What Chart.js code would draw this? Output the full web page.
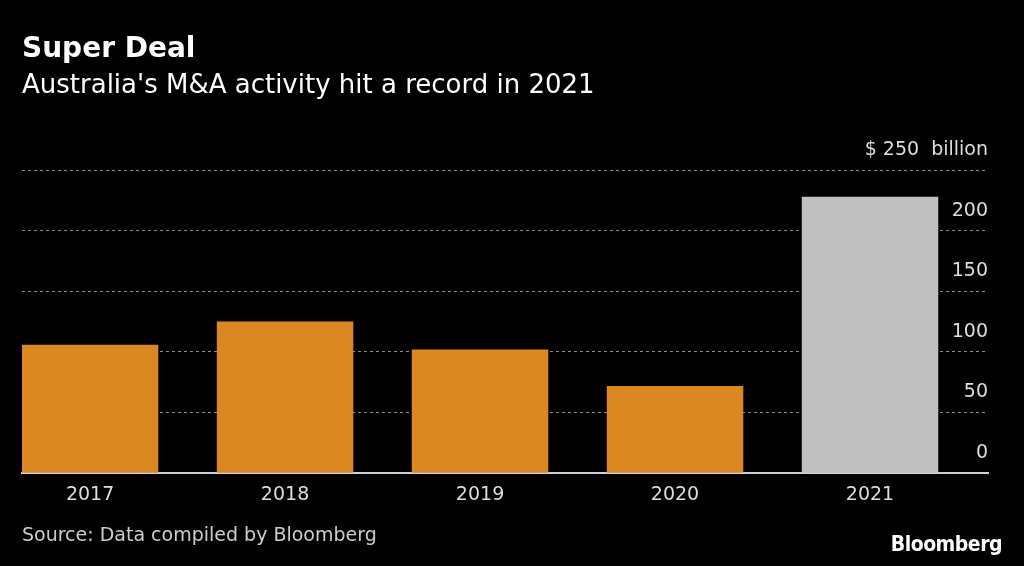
<!DOCTYPE html>
<html>
<head>
<meta charset="utf-8">
<script src="https://cdn.jsdelivr.net/npm/chart.js@4"></script>
<style>
  html, body { margin: 0; padding: 0; background: #000; }
  #wrap { position: relative; width: 1024px; height: 566px; overflow: hidden; }
  #chart { position: absolute; left: 0; top: 0; }
  .txt { position: absolute; font-family: "DejaVu Sans", sans-serif; white-space: nowrap; }
  #title { left: 22px; top: 31px; font-size: 28px; font-weight: bold; color: #fff; }
  #subtitle { left: 22px; top: 69px; font-size: 26px; color: #fff; }
  #source { left: 22px; top: 523px; font-size: 19px; color: #ccc; }
  #logo { right: 22px; top: 532px; font-family: "DejaVu Sans Condensed", "DejaVu Sans", sans-serif; font-size: 21px; font-weight: bold; color: #fff; letter-spacing: -0.5px; }
</style>
</head>
<body>
<div id="wrap">
  <canvas id="chart" width="1024" height="566"></canvas>
  <div class="txt" id="title">Super Deal</div>
  <div class="txt" id="subtitle">Australia's M&amp;A activity hit a record in 2021</div>
  <div class="txt" id="source">Source: Data compiled by Bloomberg</div>
  <div class="txt" id="logo">Bloomberg</div>
</div>
<script>
const years = ['2017', '2018', '2019', '2020', '2021'];
const dealValues = [106, 125, 102, 72, 228];
const yTicks = [0, 50, 100, 150, 200, 250];
const highlightYear = '2021';

const orange = '#db8823';
const gray = '#c0c0c0';
const fontFamily = '"DejaVu Sans", sans-serif';

const ctx = document.getElementById('chart').getContext('2d');

new Chart(ctx, {
    type: 'bar',
    data: {
        datasets: [{
            data: dealValues.map((v, i) => ({ x: i, y: v })),
            backgroundColor: years.map(y => y === highlightYear ? gray : orange),
            borderWidth: 0,
            barPercentage: 1,
            categoryPercentage: 0.7
        }]
    },
    options: {
        responsive: false,
        animation: false,
        layout: {
            padding: { top: 170, left: 22, right: 36, bottom: 50 }
        },
        plugins: {
            legend: { display: false },
            tooltip: { enabled: false }
        },
        scales: {
            x: {
                type: 'linear',
                offset: false,
                min: -0.349,
                max: 4.605,
                grid: { display: false, drawTicks: false },
                border: { display: true, color: '#d0d0d0', width: 2 },
                ticks: {
                    stepSize: 1,
                    includeBounds: false,
                    padding: 10,
                    color: '#dddddd',
                    font: { family: fontFamily, size: 19 },
                    callback: v => years[v] !== undefined ? years[v] : ''
                }
            },
            y: {
                position: 'right',
                min: yTicks[0],
                max: yTicks[yTicks.length - 1],
                grid: { color: '#8c8c8c', lineWidth: 1, drawTicks: false },
                border: { display: false, dash: [3, 3] },
                ticks: {
                    stepSize: 50,
                    mirror: true,
                    padding: 0,
                    labelOffset: -20,
                    color: '#dddddd',
                    font: { family: fontFamily, size: 19 },
                    callback: v => v === 250 ? '$ 250  billion' : v
                }
            }
        }
    }
});
</script>
</body>
</html>
